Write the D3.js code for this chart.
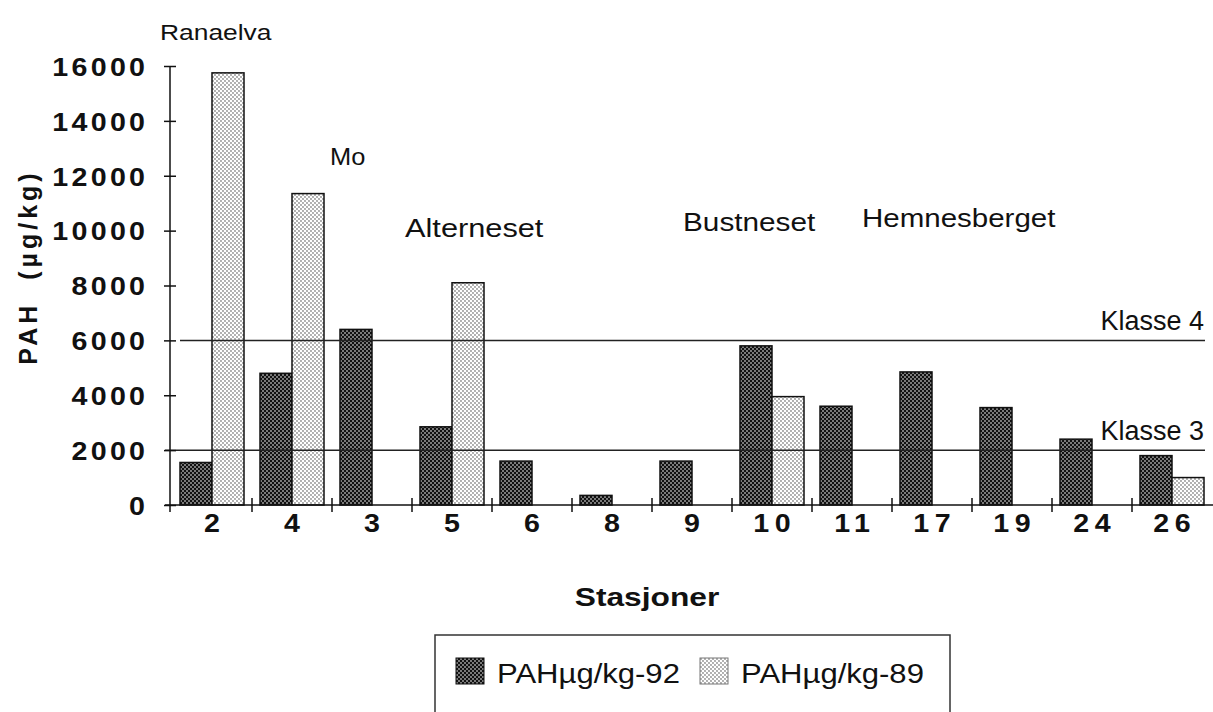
<!DOCTYPE html>
<html>
<head>
<meta charset="utf-8">
<script src="https://cdn.jsdelivr.net/npm/d3@7"></script>
<style>
  body { margin: 0; background: #fff; }
  svg text { font-family: "Liberation Sans", Arial, Helvetica, sans-serif; fill: #111; }
</style>
</head>
<body>
<svg width="1213" height="712"></svg>
<script>
var svg = d3.select("svg");

// stations in the order they are plotted
var stations = ["2", "4", "3", "5", "6", "8", "9", "10", "11", "17", "19", "24", "26"];
// PAH (ug/kg) 1992 and 1989, null = not measured
var pah92 = [1550, 4800, 6400, 2850, 1600, 350, 1600, 5800, 3600, 4850, 3550, 2400, 1800];
var pah89 = [15750, 11350, null, 8100, null, null, null, 3950, null, null, null, null, 1000];
var seriesNames = ["PAHµg/kg-92", "PAHµg/kg-89"];
var yTicks = [0, 2000, 4000, 6000, 8000, 10000, 12000, 14000, 16000];
// class limits
var klasseLevels = [6000, 2000];
var klasseNames = ["Klasse 4", "Klasse 3"];
// place names written over the bars
var placeNames = ["Ranaelva", "Mo", "Alterneset", "Bustneset", "Hemnesberget"];

var x = d3.scaleBand().domain(stations).range([172, 1212]).padding(0);
var x1 = d3.scaleBand().domain([0, 1]).range([x.bandwidth() * 0.1, x.bandwidth() * 0.9]).padding(0);
var y = d3.scaleLinear().domain([0, 16000]).range([505, 66]);

// the scanned original has wide lettering, so text gets stretched a bit
function wide(s) { return "scale(" + s + ",1)"; }

// patterns (dotted screens like the printed original)
var defs = svg.append("defs");
var pDark = defs.append("pattern").attr("id", "dark").attr("patternUnits", "userSpaceOnUse")
    .attr("width", 4).attr("height", 4);
pDark.append("rect").attr("width", 4).attr("height", 4).attr("fill", "#111");
pDark.append("circle").attr("cx", 1).attr("cy", 1).attr("r", 0.8).attr("fill", "#fff");
pDark.append("circle").attr("cx", 3).attr("cy", 3).attr("r", 0.8).attr("fill", "#fff");
var pLight = defs.append("pattern").attr("id", "light").attr("patternUnits", "userSpaceOnUse")
    .attr("width", 4).attr("height", 4);
pLight.append("rect").attr("width", 4).attr("height", 4).attr("fill", "#fff");
pLight.append("circle").attr("cx", 1).attr("cy", 1).attr("r", 0.65).attr("fill", "#222");
pLight.append("circle").attr("cx", 3).attr("cy", 3).attr("r", 0.65).attr("fill", "#222");
var fills = ["url(#dark)", "url(#light)"];

// bars
var rows = stations.map(function(s, i) {
    return { station: s, vals: [pah92[i], pah89[i]] };
});
var group = svg.append("g").selectAll("g")
    .data(rows)
    .enter().append("g")
    .attr("transform", function(d) { return "translate(" + x(d.station) + ",0)"; });

group.selectAll("rect")
    .data(function(d) {
        return d.vals.map(function(v, k) { return { k: k, v: v }; })
            .filter(function(o) { return o.v != null; });
    })
    .enter().append("rect")
    .attr("x", function(d) { return x1(d.k); })
    .attr("width", x1.bandwidth())
    .attr("y", function(d) { return y(d.v); })
    .attr("height", function(d) { return y(0) - y(d.v); })
    .attr("fill", function(d) { return fills[d.k]; })
    .attr("stroke", "#111")
    .attr("stroke-width", 1.5);

// class lines
var kl = svg.append("g");
kl.selectAll("line")
    .data(klasseLevels)
    .enter().append("line")
    .attr("x1", function(d, i) { return i == 0 ? 180 : 165; })
    .attr("x2", 1205)
    .attr("y1", function(d) { return y(d); })
    .attr("y2", function(d) { return y(d); })
    .attr("stroke", "#222")
    .attr("stroke-width", 1.5);
kl.selectAll("text")
    .data(klasseLevels)
    .enter().append("text")
    .attr("transform", function(d) { return "translate(1204," + (y(d) - 10) + ")"; })
    .attr("text-anchor", "end")
    .style("font-size", "27px")
    .text(function(d, i) { return klasseNames[i]; });

// y axis
var yAxis = svg.append("g")
    .attr("transform", "translate(170,0)")
    .call(d3.axisLeft(y).tickValues(yTicks).tickSize(6).tickSizeOuter(0).tickFormat(d3.format("d")));
yAxis.select(".domain").remove();
yAxis.append("line").attr("y1", y(16000)).attr("y2", y(0) + 7).attr("stroke", "#111").attr("stroke-width", 1.5);
yAxis.selectAll(".tick line").attr("x1", 6).attr("stroke", "#111").attr("stroke-width", 1.5);
yAxis.selectAll(".tick text")
    .attr("x", (-25 + 3.3) / 1.1)
    .attr("dy", "0.36em")
    .attr("transform", wide(1.1))
    .style("font-size", "26px")
    .style("font-weight", "bold")
    .style("letter-spacing", "3px")
    .attr("fill", "#111");

// x axis
var xAxis = svg.append("g")
    .attr("transform", "translate(0," + y(0) + ")")
    .call(d3.axisBottom(x).tickSize(0));
xAxis.select(".domain").remove();
xAxis.append("line").attr("x1", 165).attr("x2", 1213).attr("stroke", "#111").attr("stroke-width", 1.5);
xAxis.selectAll(".tick text")
    .attr("y", 27)
    .attr("dy", 0)
    .attr("dx", 2.5)
    .attr("transform", wide(1.1))
    .style("font-size", "26px")
    .style("font-weight", "bold")
    .style("letter-spacing", "5px")
    .attr("fill", "#111");
xAxis.selectAll("line.sep")
    .data(stations.slice(1))
    .enter().append("line")
    .attr("class", "sep")
    .attr("x1", function(d) { return x(d); })
    .attr("x2", function(d) { return x(d); })
    .attr("y1", -7).attr("y2", 7)
    .attr("stroke", "#111").attr("stroke-width", 1.5);

// axis titles
svg.append("text")
    .attr("transform", "translate(647,606) " + wide(1.22))
    .attr("text-anchor", "middle")
    .style("font-size", "26px").style("font-weight", "bold")
    .text("Stasjoner");

svg.append("text")
    .attr("transform", "translate(37,267) rotate(-90)")
    .attr("text-anchor", "middle")
    .style("font-size", "25px").style("font-weight", "bold").style("letter-spacing", "4px")
    .style("white-space", "pre")
    .text("PAH  (µg/kg)");

// place names (hand placed like the original)
var placePos = [[160, 40, 22, 1.2], [330, 165, 24, 1.06], [405, 237, 25, 1.23], [683, 231, 25, 1.19], [862, 227, 25, 1.18]];
svg.append("g").selectAll("text")
    .data(placeNames)
    .enter().append("text")
    .attr("transform", function(d, i) {
        var p = placePos[i];
        return "translate(" + p[0] + "," + p[1] + ") " + wide(p[3]);
    })
    .style("font-size", function(d, i) { return placePos[i][2] + "px"; })
    .text(function(d) { return d; });

// legend
var leg = svg.append("g");
leg.append("rect")
    .attr("x", 435).attr("y", 635).attr("width", 515).attr("height", 100)
    .attr("fill", "none").attr("stroke", "#333").attr("stroke-width", 1.5);
var legX = [456, 700];
var item = leg.selectAll("g.item")
    .data(seriesNames)
    .enter().append("g")
    .attr("class", "item")
    .attr("transform", function(d, i) { return "translate(" + legX[i] + ",658)"; });
item.append("rect")
    .attr("width", 28).attr("height", 26)
    .attr("fill", function(d, i) { return fills[i]; })
    .attr("stroke", function(d, i) { return i == 0 ? "#111" : "#777"; })
    .attr("stroke-width", 1);
item.append("text")
    .attr("transform", "translate(41,25) " + wide(1.15))
    .style("font-size", "27px")
    .text(function(d) { return d; });
</script>
</body>
</html>
